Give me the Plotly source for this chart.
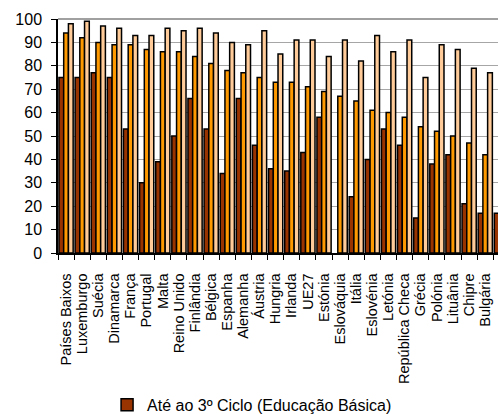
import plotly.graph_objects as go

# Countries, ordered by the secondary-education series
countries = [
    "Países Baixos", "Luxemburgo", "Suécia", "Dinamarca", "França", "Portugal",
    "Malta", "Reino Unido", "Finlândia", "Bélgica", "Espanha", "Alemanha",
    "Áustria", "Hungria", "Irlanda", "UE27", "Estónia", "Eslováquia", "Itália",
    "Eslovénia", "Letónia", "República Checa", "Grécia", "Polónia", "Lituânia",
    "Chipre", "Bulgária", "Roménia",
]

basico = [75, 75, 77, 75, 53, 30, 39, 50, 66, 53, 34, 66, 46, 36, 35, 43, 58,
          None, 24, 40, 53, 46, 15, 38, 42, 21, 17, 17]
secundario = [94, 92, 90, 89, 89, 87, 86, 86, 84, 81, 78, 77, 75, 73, 73, 71,
              69, 67, 65, 61, 60, 58, 54, 52, 50, 47, 42, 40]
superior = [98, 99, 97, 96, 93, 93, 96, 95, 96, 94, 90, 89, 95, 85, 91, 91, 84,
            91, 82, 93, 86, 91, 75, 89, 87, 79, 77, 80]

y_ticks = list(range(0, 101, 10))

FONT = "Liberation Sans, Arial, sans-serif"
outline = dict(color="black", width=1.5)

fig = go.Figure()
fig.add_trace(go.Bar(x=countries, y=basico, name="Até ao 3º Ciclo (Educação Básica)",
                     marker=dict(color="#993300", line=outline)))
fig.add_trace(go.Bar(x=countries, y=secundario, name="Ensino Secundário",
                     marker=dict(color="#FF9900", line=outline), showlegend=False))
fig.add_trace(go.Bar(x=countries, y=superior, name="Ensino Superior",
                     marker=dict(color="#FFCC99", line=outline), showlegend=False))

fig.update_layout(
    width=498, height=414,
    margin=dict(l=58, r=0, t=19, b=161, pad=0, autoexpand=False),
    paper_bgcolor="white", plot_bgcolor="white",
    barmode="group", bargap=0.12, bargroupgap=0,
    font=dict(family=FONT, size=16, color="black"),
    showlegend=True,
    legend=dict(orientation="h", xref="container", yref="container",
                x=0.215, xanchor="left", y=0.022, yanchor="middle",
                itemwidth=30, font=dict(size=16), bgcolor="rgba(0,0,0,0)"),
    shapes=[dict(type="line", xref="paper", yref="paper", x0=0, x1=1, y0=1, y1=1,
                 line=dict(color="#808080", width=1.5))],
)

fig.update_xaxes(
    type="category", range=[-0.5, 26.79], automargin=False,
    tickmode="array", tickvals=countries, ticktext=countries,
    tickfont=dict(size=14.5),
    showline=True, linecolor="black", linewidth=1.5,
    ticks="outside", tickson="boundaries", ticklen=5, tickcolor="black",
    tickangle=-90, ticklabelstandoff=13, showgrid=False,
)
fig.update_yaxes(
    range=[0, 100], tickvals=y_ticks, automargin=False,
    showline=True, linecolor="black", linewidth=1.5,
    ticks="outside", ticklen=5, tickcolor="black", ticklabelstandoff=6,
    showgrid=True, gridcolor="#A6A6A6", gridwidth=1, zeroline=False,
)

fig.write_html("out.html")
